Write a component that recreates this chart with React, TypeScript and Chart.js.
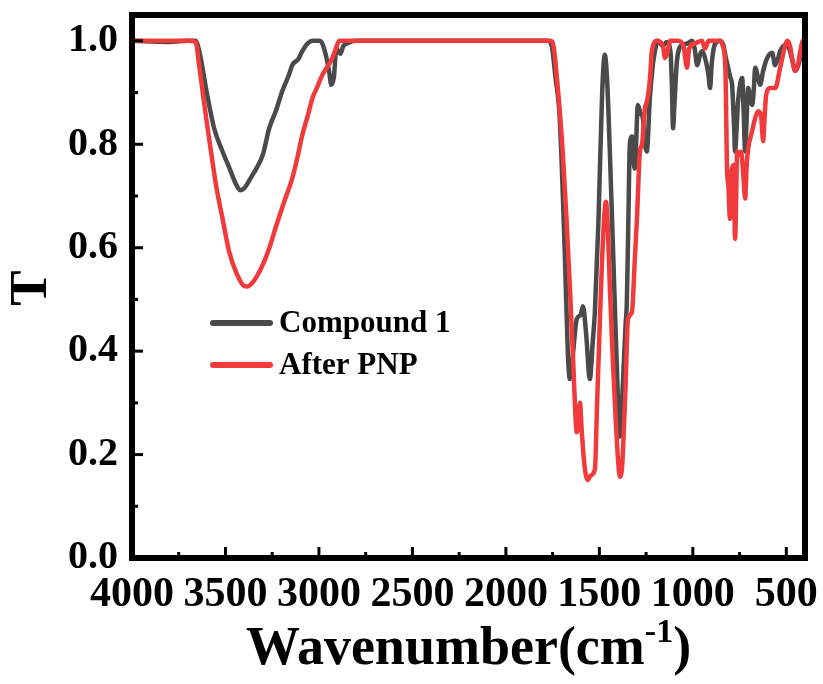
import React, { useEffect, useRef } from "react";
import { Chart, registerables } from "chart.js";

Chart.register(...registerables);

// ---- Data ----
const seriesLabels = ["Compound 1", "After PNP"];

const compoundWn = [
  4000, 3800, 3700, 3660, 3640, 3600, 3560, 3520, 3480, 3440, 3420, 3400, 3360, 3335, 3300, 3266, 3230, 3196,
  3160, 3143, 3110, 3089, 3060, 3035, 3000, 2987, 2965, 2945, 2934, 2920, 2907, 2885, 2870, 2850, 2800, 1776,
  1755, 1735, 1712, 1685, 1669, 1658, 1645, 1621, 1600, 1588, 1570, 1551, 1535, 1524, 1505, 1485, 1471, 1458,
  1444, 1420, 1400, 1390, 1375, 1360, 1353, 1345, 1337, 1325, 1315, 1310, 1294, 1280, 1267, 1256, 1246, 1230,
  1215, 1203, 1187, 1160, 1140, 1120, 1112, 1106, 1098, 1085, 1058, 1030, 1004, 990, 977, 960, 951, 930, 915,
  908, 898, 880, 854, 835, 825, 811, 800, 790, 780, 774, 766, 758, 745, 736, 728, 720, 712, 704, 693, 683, 675,
  666, 652, 640, 624, 602, 576, 560, 545, 533, 506, 490, 470, 452, 430, 410, 400,
];
const compoundT = [
  1.0, 0.998, 1.0, 1.0, 0.98, 0.9, 0.83, 0.79, 0.755, 0.72, 0.711, 0.715, 0.738, 0.753, 0.78, 0.831, 0.865, 0.903,
  0.935, 0.953, 0.965, 0.98, 0.995, 1.0, 1.0, 0.998, 0.975, 0.94, 0.915, 0.93, 0.985, 0.975, 0.99, 0.995, 1.0, 1.0,
  0.99, 0.93, 0.85, 0.59, 0.4, 0.346, 0.38, 0.462, 0.47, 0.487, 0.43, 0.346, 0.42, 0.475, 0.65, 0.9, 0.973, 0.92,
  0.786, 0.52, 0.3, 0.235, 0.33, 0.45, 0.495, 0.65, 0.8, 0.815, 0.76, 0.753, 0.876, 0.86, 0.85, 0.8, 0.786, 0.889,
  0.95, 0.98, 1.0, 0.99, 0.998, 0.98, 0.915, 0.831, 0.88, 0.961, 0.992, 0.995, 1.0, 0.985, 0.953, 0.975, 0.98, 0.96, 0.93,
  0.909, 0.96, 0.995, 1.0, 0.99, 0.97, 0.948, 0.93, 0.915, 0.84, 0.786, 0.83, 0.883, 0.92, 0.928, 0.86, 0.786, 0.85, 0.909, 0.89, 0.876, 0.9,
  0.948, 0.93, 0.915, 0.942, 0.967, 0.977, 0.953, 0.965, 0.98, 0.992, 0.99, 0.965, 0.942, 0.96, 1.0, 1.0,
];

const pnpWn = [
  4000, 3700, 3660, 3640, 3603, 3575, 3550, 3515, 3480, 3440, 3400, 3385, 3350, 3303, 3265, 3228, 3185, 3143,
  3115, 3089, 3060, 3035, 3010, 2982, 2955, 2928, 2905, 2891, 1760, 1745, 1725, 1696, 1675, 1658, 1640, 1631,
  1621, 1612, 1604, 1595, 1580, 1562, 1545, 1524, 1512, 1497, 1480, 1465, 1455, 1444, 1430, 1417, 1400, 1390,
  1380, 1374, 1360, 1347, 1326, 1310, 1299, 1283, 1272, 1256, 1245, 1229, 1219, 1192, 1160, 1149, 1138, 1120,
  1080, 1050, 1031, 1020, 990, 951, 935, 915, 881, 854, 840, 826, 817, 810, 801, 795, 790, 782, 774, 768, 763,
  750, 742, 730, 720, 712, 704, 683, 667, 651, 635, 624, 615, 608, 586, 559, 533, 510, 495, 480, 469, 452, 440,
  425, 410, 400,
];
const pnpT = [
  1.0, 1.0, 0.998, 0.95, 0.85, 0.78, 0.72, 0.655, 0.592, 0.55, 0.526, 0.525, 0.535, 0.565, 0.6, 0.643, 0.69, 0.734,
  0.775, 0.818, 0.855, 0.889, 0.91, 0.934, 0.95, 0.967, 0.99, 1.0, 1.0, 0.99, 0.92, 0.786, 0.65, 0.526, 0.38, 0.3,
  0.243, 0.26, 0.3, 0.25, 0.18, 0.151, 0.16, 0.171, 0.3, 0.462, 0.62, 0.689, 0.64, 0.526, 0.4, 0.3, 0.19, 0.157,
  0.17, 0.204, 0.33, 0.462, 0.475, 0.58, 0.656, 0.786, 0.8, 0.87, 0.883, 0.928, 0.98, 1.0, 0.99, 0.967, 0.975, 1.0,
  1.0, 0.99, 0.948, 0.985, 0.995, 1.0, 0.985, 1.0, 1.0, 1.0, 0.99, 0.948, 0.753, 0.72, 0.656, 0.74, 0.753, 0.76, 0.617, 0.7, 0.786,
  0.78, 0.786, 0.74, 0.695, 0.76, 0.792, 0.825, 0.85, 0.864, 0.855, 0.806, 0.86, 0.895, 0.909, 0.909, 0.948, 0.985, 1.0, 0.99, 0.967, 0.942, 0.95,
  0.98, 1.0, 0.995,
];

const xTickValues = [4000, 3500, 3000, 2500, 2000, 1500, 1000, 500];
const xMinorValues = [3750, 3250, 2750, 2250, 1750, 1250, 750];
const yTickValues = [0, 0.2, 0.4, 0.6, 0.8, 1.0];
const yMinorValues = [0.1, 0.3, 0.5, 0.7, 0.9];

const xTitle = "Wavenumber(cm";
const xTitleSup = "-1";
const xTitleEnd = ")";
const yTitle = "T";

const GRAY = "#4a4a4a";
const RED = "#f03a3c";
const FONT = '"Liberation Serif", "Times New Roman", serif';

const decorPlugin = {
  id: "decor",
  afterDatasetsDraw(chart: any) {
    const { ctx, chartArea: a, scales } = chart;
    ctx.save();
    ctx.strokeStyle = "#000";
    ctx.lineWidth = 6;
    ctx.strokeRect(a.left, a.top, a.right - a.left, a.bottom - a.top);
    ctx.lineWidth = 3;
    ctx.lineCap = "butt";
    const seg = (x1: number, y1: number, x2: number, y2: number) => {
      ctx.beginPath();
      ctx.moveTo(x1, y1);
      ctx.lineTo(x2, y2);
      ctx.stroke();
    };
    for (const v of xTickValues) {
      const px = scales.x.getPixelForValue(v);
      seg(px, a.bottom, px, a.bottom - 11);
    }
    for (const v of xMinorValues) {
      const px = scales.x.getPixelForValue(v);
      seg(px, a.bottom, px, a.bottom - 6);
    }
    for (const v of yTickValues) {
      const py = scales.y.getPixelForValue(v);
      seg(a.left, py, a.left + 11, py);
    }
    for (const v of yMinorValues) {
      const py = scales.y.getPixelForValue(v);
      seg(a.left, py, a.left + 6, py);
    }
    ctx.restore();
  },
  afterDraw(chart: any) {
    const { ctx, chartArea: a, scales } = chart;
    ctx.save();
    ctx.fillStyle = "#000";
    // Tick labels
    ctx.font = `bold 40px ${FONT}`;
    ctx.textAlign = "right";
    ctx.textBaseline = "middle";
    for (const v of yTickValues) {
      const py = scales.y.getPixelForValue(v);
      ctx.fillText(v.toFixed(1), a.left - 14, py);
    }
    ctx.font = `bold 42px ${FONT}`;
    ctx.textAlign = "center";
    ctx.textBaseline = "alphabetic";
    for (const v of xTickValues) {
      const px = scales.x.getPixelForValue(v);
      ctx.fillText(String(v), px, a.bottom + 48);
    }
    // Legend
    const ds = chart.data.datasets;
    const legendY = [323, 365];
    ds.forEach((d: any, i: number) => {
      ctx.strokeStyle = d.borderColor;
      ctx.lineWidth = 6;
      ctx.lineCap = "round";
      ctx.beginPath();
      ctx.moveTo(213, legendY[i]);
      ctx.lineTo(270, legendY[i]);
      ctx.stroke();
      ctx.font = `bold 31px ${FONT}`;
      ctx.textBaseline = "middle";
      ctx.textAlign = "left";
      ctx.fillStyle = "#000";
      ctx.fillText(d.label, 279, legendY[i] + 1);
    });
    // X title with superscript
    const mainFont = `bold 54px ${FONT}`;
    const supFont = `bold 34px ${FONT}`;
    ctx.font = mainFont;
    const w1 = ctx.measureText(xTitle).width;
    const w3 = ctx.measureText(xTitleEnd).width;
    ctx.font = supFont;
    const w2 = ctx.measureText(xTitleSup).width;
    const total = w1 + w2 + w3;
    const cx = (a.left + a.right) / 2;
    let x = cx - total / 2;
    const base = 664;
    ctx.textBaseline = "alphabetic";
    ctx.textAlign = "left";
    ctx.font = mainFont;
    ctx.fillText(xTitle, x, base);
    x += w1;
    ctx.font = supFont;
    ctx.fillText(xTitleSup, x, base - 22);
    x += w2;
    ctx.font = mainFont;
    ctx.fillText(xTitleEnd, x, base);
    // Y title
    ctx.translate(32, 288);
    ctx.rotate(-Math.PI / 2);
    ctx.font = `bold 53px ${FONT}`;
    ctx.textAlign = "center";
    ctx.textBaseline = "middle";
    ctx.fillText(yTitle, 0, 0);
    ctx.restore();
  },
};

export default function App() {
  const canvasRef = useRef<HTMLCanvasElement | null>(null);

  useEffect(() => {
    if (!canvasRef.current) return;
    const chart = new Chart(canvasRef.current, {
      type: "line",
      data: {
        datasets: [
          {
            label: seriesLabels[0],
            data: compoundWn.map((w, i) => ({ x: w, y: compoundT[i] })),
            borderColor: GRAY,
            borderWidth: 4.5,
            pointRadius: 0,
            cubicInterpolationMode: "monotone",
            fill: false,
            order: 2,
          },
          {
            label: seriesLabels[1],
            data: pnpWn.map((w, i) => ({ x: w, y: pnpT[i] })),
            borderColor: RED,
            borderWidth: 4.5,
            pointRadius: 0,
            cubicInterpolationMode: "monotone",
            fill: false,
            order: 1,
          },
        ],
      },
      options: {
        animation: false,
        responsive: true,
        maintainAspectRatio: false,
        layout: { padding: { top: 15, right: 18, left: 0, bottom: 0 } },
        plugins: { legend: { display: false }, tooltip: { enabled: false } },
        scales: {
          x: {
            type: "linear",
            reverse: true,
            min: 400,
            max: 4000,
            afterBuildTicks: (s: any) => {
              s.ticks = xTickValues.map((v) => ({ value: v }));
            },
            afterFit: (s: any) => {
              s.height = 126;
            },
            grid: { display: false, drawTicks: false },
            border: { display: false },
            ticks: { display: false },
          },
          y: {
            type: "linear",
            min: 0,
            max: 1.05,
            afterBuildTicks: (s: any) => {
              s.ticks = yTickValues.map((v) => ({ value: v }));
            },
            afterFit: (s: any) => {
              s.width = 132;
            },
            grid: { display: false, drawTicks: false },
            border: { display: false },
            ticks: { display: false },
          },
        },
      },
      plugins: [decorPlugin],
    } as any);
    return () => chart.destroy();
  }, []);

  return (
    <div style={{ position: "fixed", left: 0, top: 0, width: 823, height: 684, background: "#fff" }}>
      <canvas ref={canvasRef} />
    </div>
  );
}
